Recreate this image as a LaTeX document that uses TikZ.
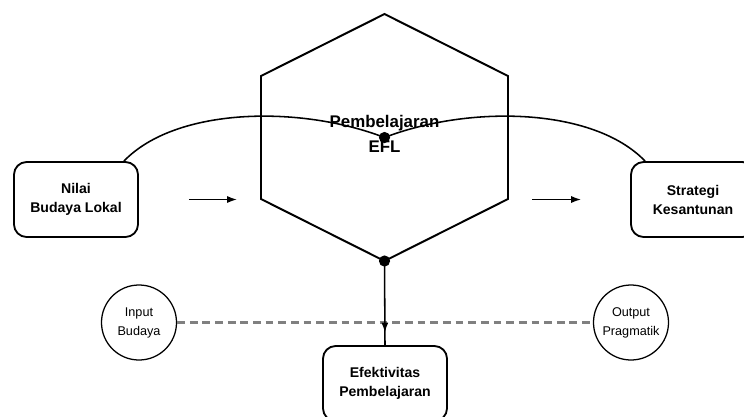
\documentclass[tikz,border=0pt]{standalone}
\usepackage{fontspec}
\setmainfont{Liberation Sans}
\usetikzlibrary{calc, arrows.meta, positioning, decorations.markings}

\begin{document}
\begin{tikzpicture}[x=0.025cm, y=-0.025cm,
    box/.style={draw, line width=1.3pt, rounded corners=9pt, minimum width=3.1cm,
      minimum height=1.875cm, align=center, font=\bfseries\fontsize{10}{13.5}\selectfont},
    port/.style={draw, circle, line width=0.9pt, minimum size=1.875cm, inner sep=0pt,
      align=center, font=\fontsize{9}{13.5}\selectfont},
    junction/.style={circle, fill=black, inner sep=0pt, minimum size=0.28cm},
    hextext/.style={align=center, font=\bfseries\fontsize{12}{17.7}\selectfont},
    flow/.style={-{Latex[length=7pt, width=5pt]}, line width=1pt},
    link/.style={line width=1.1pt},
    hexline/.style={line width=1.4pt, line join=miter},
    dashline/.style={draw=black!50, line width=1.6pt, dash pattern=on 5.5pt off 3.5pt}
  ]
  \useasboundingbox (0,0) rectangle (744,416);

  % --- Hexagon (EFL learning) ---
  \coordinate (hc) at (384.5,137.5);
  \coordinate (htop) at ($(hc)+(0,-123.5)$);
  \coordinate (hbot) at ($(hc)+(0,123.5)$);
  \coordinate (hwest) at ($(hc)+(-123.5,0)$);
  \coordinate (heast) at ($(hc)+(123.5,0)$);
  \draw[hexline] (htop) -- ($(hc)+(123.5,-61.5)$) -- ($(hc)+(123.5,61.5)$) -- (hbot)
    -- ($(hc)+(-123.5,61.5)$) -- ($(hc)+(-123.5,-61.5)$) -- cycle;

  % --- Boxes and circles ---
  \node[box] (nilai) at (76,199.5) {Nilai\\Budaya Lokal};
  \node[box] (strat) at (693,199.5) {Strategi\\Kesantunan};
  \node[box] (eff) at (385,383.5) {Efektivitas\\Pembelajaran};
  \node[port] (inp) at (139,322.5) {Input\\Budaya};
  \node[port] (outp) at (631,322.5) {Output\\Pragmatik};

  % --- Curve over the hexagon ---
  \draw[link] ($(nilai.north east)+(-15,0)$) .. controls +(52,-54) and +(-84.5,-32.5) .. (hc);
  \draw[link] (hc) .. controls +(84.5,-32.5) and +(-52,-54) .. ($(strat.north west)+(15,0)$);

  % --- Side arrows ---
  \draw[flow, shorten <=1.25cm, shorten >=0.6cm] (nilai.east) -- (nilai.east -| hwest);
  \draw[flow, shorten <=0.6cm, shorten >=1.225cm] (strat.west -| heast) -- (strat.west);

  % --- Dashed link between the circles ---
  \draw[dashline] (inp) -- (outp);

  % --- Down to the result ---
  \draw[link, postaction={decorate}, decoration={markings,
      mark=at position 0.85 with {\arrow{Latex[length=7pt, width=5pt]}}}] (hbot) -- (eff.north);

  \node[hextext] (hexlabel) at ($(hc)+(0,-4)$) {Pembelajaran\\EFL};
  \node[junction] (hubdot) at (hc) {};
  \node[junction] (lowdot) at (hbot) {};
\end{tikzpicture}
\end{document}
